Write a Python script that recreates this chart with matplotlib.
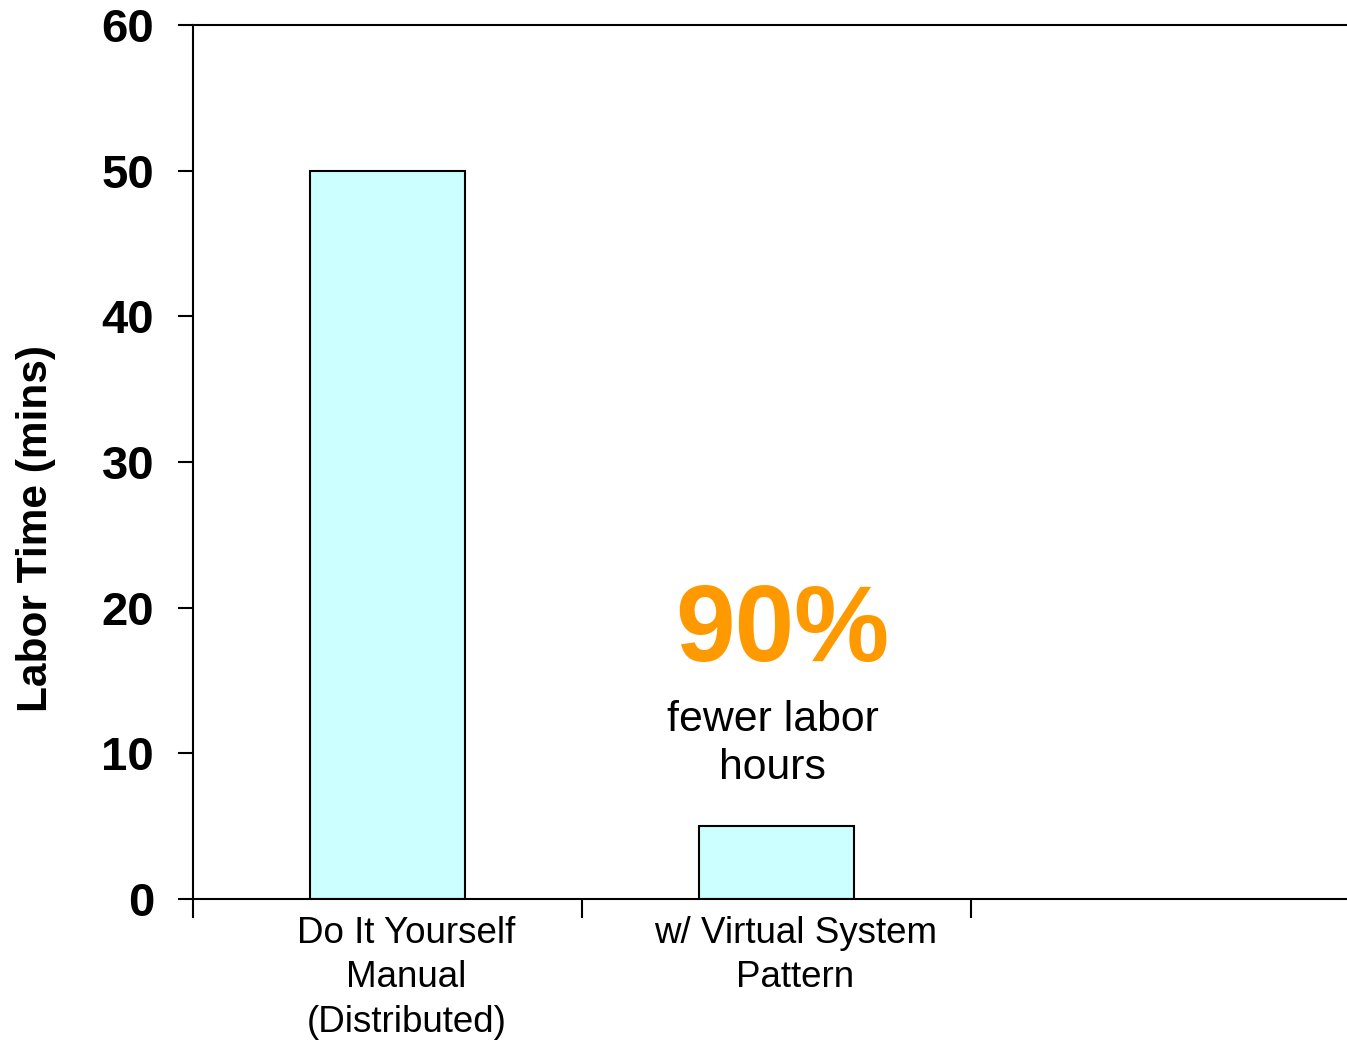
import numpy as np
import matplotlib.pyplot as plt
import matplotlib.transforms as mtransforms

plt.rcParams['font.family'] = ['Liberation Sans', 'DejaVu Sans']

# 数据
categories = ['Do It Yourself\nManual\n(Distributed)', 'w/ Virtual System\nPattern']
labor_mins = [50, 5]
y_ticks = [0, 10, 20, 30, 40, 50, 60]

fig = plt.figure(figsize=(13.47, 10.41), dpi=100)
ax = fig.add_axes([193 / 1347, 1 - 899 / 1041, 1 - 193 / 1347, (899 - 25) / 1041])

x = np.arange(len(categories)) + 0.5
ax.bar(x, labor_mins, width=0.4, color='#CCFFFF', edgecolor='black', linewidth=1.5, zorder=2)

ax.set_xlim(0, 1154 / 389)
ax.set_ylim(0, 60)

# 主刻度：分隔线；次刻度：类别标签
ax.set_xticks([0, 1, 2])
ax.set_xticklabels([])
ax.set_xticks(x, minor=True)
ax.set_xticklabels(categories, minor=True, fontsize=26.5, linespacing=1.36)
ax.tick_params(axis='x', which='major', direction='out', length=14, width=1.5)
ax.tick_params(axis='x', which='minor', length=0, pad=12)
offset = mtransforms.ScaledTranslation(19 / 100, 0, fig.dpi_scale_trans)
for lbl in ax.xaxis.get_minorticklabels():
    lbl.set_transform(lbl.get_transform() + offset)

ax.set_yticks(y_ticks)
ax.set_yticklabels([str(v) for v in y_ticks], fontsize=34, fontweight='bold')
ax.tick_params(axis='y', direction='out', length=11, width=1.5, pad=17)

for side in ['left', 'top', 'bottom']:
    ax.spines[side].set_linewidth(1.5)
ax.spines['right'].set_visible(False)

fig.text(36 / 1347, 1 - 528 / 1041, 'Labor Time (mins)', fontsize=30.5, fontweight='bold',
         rotation=90, ha='center', va='center')

ax.text(1.515, 18.25, '90%', fontsize=77, fontweight='bold', color='#FF9900',
        ha='center', va='center')
ax.text(1.49, 10.65, 'fewer labor\nhours', fontsize=30.8, ha='center', va='center',
        linespacing=1.24)

fig.savefig('out.png', dpi=100)
